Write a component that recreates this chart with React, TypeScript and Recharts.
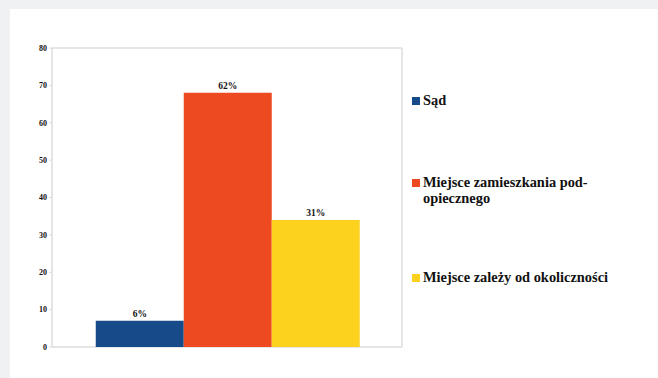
import React from "react";
import { BarChart, Bar, XAxis, YAxis, CartesianGrid, LabelList } from "recharts";

const categories = [""];
const seriesKeys = ["sad", "miejsce", "zalezy"];
const seriesNames = ["Sąd", "Miejsce zamieszkania pod-\nopiecznego", "Miejsce zależy od okoliczności"];
const seriesValues = [7, 68, 34];
const seriesLabels = ["6%", "62%", "31%"];
const seriesColors = ["#174a88", "#ee4a22", "#fcd21e"];
const yTicks = [0, 10, 20, 30, 40, 50, 60, 70, 80];

const FONT = "'Liberation Serif', 'Times New Roman', Tinos, 'DejaVu Serif', serif";

const data = categories.map((c) => {
  const row: Record<string, string | number> = { name: c };
  seriesKeys.forEach((k, i) => {
    row[k] = seriesValues[i];
  });
  return row;
});

const legendTops = [84, 166, 261];

export default function App() {
  return (
    <div
      style={{
        position: "fixed",
        left: 0,
        top: 0,
        width: 658,
        height: 378,
        background: "#f0f1f3",
      }}
    >
      <div
        style={{
          position: "absolute",
          left: 10,
          top: 9,
          width: 648,
          height: 369,
          background: "#ffffff",
        }}
      >
        <BarChart
          width={648}
          height={369}
          data={data}
          margin={{ top: 39, right: 255, bottom: 31, left: 12 }}
          barCategoryGap="12.5%"
          barGap={0}
        >
          <CartesianGrid horizontal vertical={false} stroke="#dedede" strokeWidth={1.5} />
          <XAxis dataKey="name" hide />
          <YAxis
            yAxisId="left"
            width={30}
            domain={[0, 80]}
            ticks={yTicks}
            interval={0}
            tickSize={3}
            axisLine={{ stroke: "#dcdcdc", strokeWidth: 1.5 }}
            tickLine={{ stroke: "#dcdcdc" }}
            tick={{ fontFamily: FONT, fontWeight: "bold", fontSize: 8, fill: "#111" }}
          />
          <YAxis
            yAxisId="right"
            orientation="right"
            width={1}
            domain={[0, 80]}
            tick={false}
            tickLine={false}
            axisLine={{ stroke: "#dcdcdc", strokeWidth: 1.5 }}
          />
          {seriesKeys.map((k, i) => (
            <Bar key={k} yAxisId="left" dataKey={k} name={seriesNames[i]} fill={seriesColors[i]} isAnimationActive={false}>
              <LabelList
                dataKey={k}
                content={(p: any) => (
                  <text
                    x={Number(p.x) + Number(p.width) / 2}
                    y={Number(p.y) - 4}
                    textAnchor="middle"
                    fontFamily={FONT}
                    fontWeight="bold"
                    fontSize={9.5}
                    fill="#111"
                  >
                    {seriesLabels[i]}
                  </text>
                )}
              />
            </Bar>
          ))}
        </BarChart>
        {seriesNames.map((n, i) => (
          <div
            key={i}
            style={{
              position: "absolute",
              left: 402,
              top: legendTops[i],
              display: "flex",
              alignItems: "flex-start",
              fontFamily: FONT,
              fontWeight: "bold",
              fontSize: 14.4,
              lineHeight: "15.5px",
              color: "#111",
              whiteSpace: "pre",
            }}
          >
            <span
              style={{
                display: "inline-block",
                width: 8,
                height: 8,
                background: seriesColors[i],
                marginTop: 4,
                marginRight: 3,
              }}
            />
            <span>{n}</span>
          </div>
        ))}
      </div>
    </div>
  );
}
